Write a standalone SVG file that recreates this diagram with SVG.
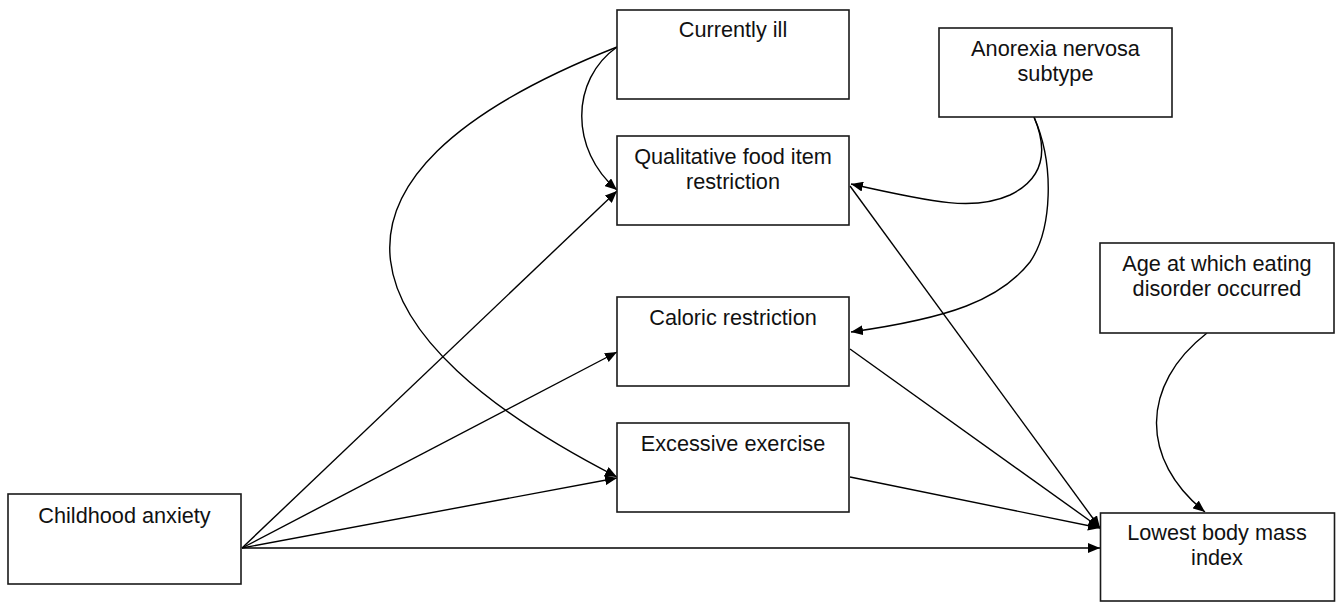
<svg xmlns="http://www.w3.org/2000/svg" width="1342" height="602" viewBox="0 0 1342 602">
<style>
.box{fill:#fff;stroke:#1a1a1a;stroke-width:1.6}
.lbl{font-family:"Liberation Sans",Arial,sans-serif;font-size:21.7px;fill:#111;text-anchor:middle}
.edge{fill:none;stroke:#000;stroke-width:1.4;marker-end:url(#ah)}
</style>
<defs>
<marker id="ah" markerUnits="userSpaceOnUse" viewBox="0 0 12 10" refX="12" refY="5" markerWidth="12" markerHeight="10" orient="auto">
<path d="M0,0 L12,5 L0,10 z" fill="#000"/>
</marker>
</defs>
<rect width="1342" height="602" fill="#fff"/>
<g id="connectors">
<path class="edge" d="M242 548 L617 191"/>
<path class="edge" d="M242 548 L617 352"/>
<path class="edge" d="M242 548 L617 478"/>
<path class="edge" d="M242 548 L1100 548"/>
<path class="edge" d="M850 186 L1100 528"/>
<path class="edge" d="M850 349 L1100 528"/>
<path class="edge" d="M850 477 L1100 528"/>
<path class="edge" d="M617 47 C570 80, 570 150, 617 190"/>
<path class="edge" d="M617 47 C280 180, 350 340, 617 477"/>
<path class="edge" d="M1034 117 C1048 150, 1045 178, 1010 195 C975 211, 935 203, 851 184"/>
<path class="edge" d="M1034 117 C1055 165, 1052 230, 1030 262 C1000 300, 950 318, 851 332"/>
<path class="edge" d="M1207 333 C1140 385, 1140 460, 1205 512"/>
</g>
<g id="currently-ill">
<rect class="box" x="617" y="10" width="232" height="89"/>
<text class="lbl" x="733" y="37">Currently ill</text>
</g>
<g id="qualitative">
<rect class="box" x="617" y="136" width="232" height="89"/>
<text class="lbl" x="733" y="164">Qualitative food item</text>
<text class="lbl" x="733" y="189">restriction</text>
</g>
<g id="caloric">
<rect class="box" x="617" y="297" width="232" height="89"/>
<text class="lbl" x="733" y="325">Caloric restriction</text>
</g>
<g id="exercise">
<rect class="box" x="617" y="423" width="232" height="89"/>
<text class="lbl" x="733" y="451">Excessive exercise</text>
</g>
<g id="anorexia">
<rect class="box" x="939" y="28" width="233" height="89"/>
<text class="lbl" x="1055.5" y="56">Anorexia nervosa</text>
<text class="lbl" x="1055.5" y="81">subtype</text>
</g>
<g id="age">
<rect class="box" x="1100" y="243" width="234" height="90"/>
<text class="lbl" x="1217" y="271">Age at which eating</text>
<text class="lbl" x="1217" y="296">disorder occurred</text>
</g>
<g id="bmi">
<rect class="box" x="1100.5" y="513" width="234" height="88"/>
<text class="lbl" x="1217" y="540">Lowest body mass</text>
<text class="lbl" x="1217" y="565">index</text>
</g>
<g id="anxiety">
<rect class="box" x="8" y="494" width="233" height="90"/>
<text class="lbl" x="124.5" y="522.5">Childhood anxiety</text>
</g>
</svg>
